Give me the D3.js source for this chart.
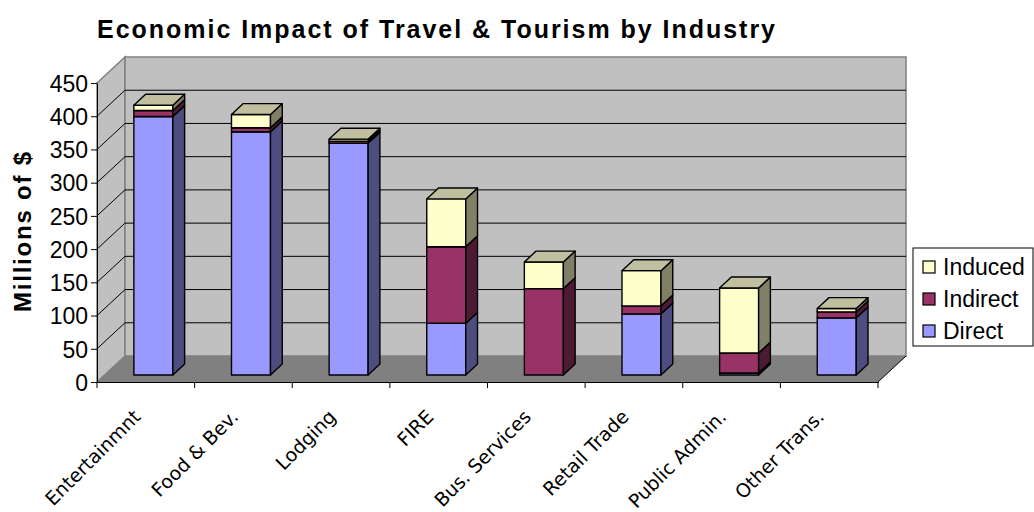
<!DOCTYPE html>
<html>
<head>
<meta charset="utf-8">
<script src="https://cdn.jsdelivr.net/npm/d3@7"></script>
<style>
  body { margin: 0; background: #fff; }
  svg { display: block; }
  .tick text { font-family: "Liberation Sans", Arial, sans-serif; }
</style>
</head>
<body>
<svg id="chart" width="1034" height="512"></svg>
<script>
// data (millions of $)
var categories = ["Entertainmnt", "Food & Bev.", "Lodging", "FIRE", "Bus. Services", "Retail Trade", "Public Admin.", "Other Trans."];
var direct   = [389, 366, 349, 78, 0, 92, 3, 86];
var indirect = [9, 6, 3, 115, 130, 12, 30, 9];
var induced  = [8, 20, 3, 72, 40, 53, 98, 5];
var seriesNames = ["Direct", "Indirect", "Induced"];
var yTicks = [0, 50, 100, 150, 200, 250, 300, 350, 400, 450];

// colours: front, side, top
var colors = {
  "Direct":   ["#9999ff", "#4d4d80", "#7373bf"],
  "Indirect": ["#993366", "#4d1a33", "#732650"],
  "Induced":  ["#ffffcc", "#808066", "#c0c0a0"]
};

var svg = d3.select("#chart");

var DX = 28, DY = 26;          // depth of the floor
var z0 = 0.27, z1 = 0.69;      // bar depth inside the floor
var barW = 39;

var x = d3.scaleBand().domain(categories).range([97, 878]);
var y = d3.scaleLinear().domain([0, 450]).range([382, 83]);

// project a front-plane point back by depth z (0..1)
function P(px, py, z) { return [px + z * DX, py - z * DY]; }
function poly(pts) { return pts.map(function(p) { return p.join(","); }).join(" "); }

// walls and floor
var x0 = x.range()[0], x1 = x.range()[1];
svg.append("polygon")
  .attr("points", poly([P(x0, y(0), 0), P(x0, y(450), 0), P(x0, y(450), 1), P(x0, y(0), 1)]))
  .attr("fill", "#c0c0c0").attr("stroke", "#808080").attr("stroke-width", 1.5);
svg.append("polygon")
  .attr("points", poly([P(x0, y(450), 1), P(x1, y(450), 1), P(x1, y(0), 1), P(x0, y(0), 1)]))
  .attr("fill", "#c0c0c0").attr("stroke", "#808080").attr("stroke-width", 1.5);
svg.append("polygon")
  .attr("points", poly([P(x0, y(0), 0), P(x1, y(0), 0), P(x1, y(0), 1), P(x0, y(0), 1)]))
  .attr("fill", "#808080");
svg.append("line")
  .attr("x1", x1).attr("y1", y(0)).attr("x2", x1 + DX).attr("y2", y(0) - DY)
  .attr("stroke", "#000").attr("stroke-width", 1);

// gridlines on back and side walls
var grid = yTicks.filter(function(v) { return v > 0 && v < 450; });
svg.append("g").selectAll("polyline")
  .data(grid)
  .enter().append("polyline")
  .attr("points", function(v) { return poly([P(x0, y(v), 0), P(x0, y(v), 1), P(x1, y(v), 1)]); })
  .attr("fill", "none").attr("stroke", "#000").attr("stroke-width", 1);

// stacked 3D bars
var series = [direct, indirect, induced];
var stacks = categories.map(function(c, i) {
  var base = 0;
  return series.map(function(s, k) {
    var seg = { cat: c, name: seriesNames[k], lo: base, hi: base + s[i] };
    base += s[i];
    return seg;
  }).filter(function(seg) { return seg.hi > seg.lo; });
});

var bars = svg.append("g").selectAll("g")
  .data(stacks)
  .enter().append("g");

bars.each(function(segs) {
  var g = d3.select(this);
  segs.forEach(function(d) {
    var cx = x(d.cat) + x.bandwidth() / 2;
    var l = cx - barW / 2, r = cx + barW / 2;
    var yl = y(d.lo), yh = y(d.hi);
    var front = [P(l, yl, z0), P(r, yl, z0), P(r, yh, z0), P(l, yh, z0)];
    var side = [P(r, yl, z0), P(r, yl, z1), P(r, yh, z1), P(r, yh, z0)];
    var top = [P(l, yh, z0), P(r, yh, z0), P(r, yh, z1), P(l, yh, z1)];
    var c = colors[d.name];
    [[front, c[0]], [side, c[1]], [top, c[2]]].forEach(function(f) {
      g.append("polygon")
        .attr("points", poly(f[0]))
        .attr("fill", f[1])
        .attr("stroke", "#000").attr("stroke-width", 1.4)
        .attr("stroke-linejoin", "round");
    });
  });
});

// y axis
var yAxis = d3.axisLeft(y).tickValues(yTicks).tickSize(6).tickSizeOuter(0).tickPadding(3);
var ya = svg.append("g").attr("transform", "translate(" + x0 + ",0)").call(yAxis);
ya.selectAll("text").attr("font-size", 23).attr("fill", "#000").attr("dy", "0.36em");
ya.selectAll("line, path").attr("stroke", "#000");

// x axis (ticks at category boundaries)
var xAxis = d3.axisBottom(x).tickSize(0).tickFormat("");
var xa = svg.append("g").attr("transform", "translate(0," + y(0) + ")").call(xAxis);
xa.select("path").attr("stroke", "#000");
var bounds = categories.map(function(c) { return x(c); }).concat([x1]);
xa.selectAll(".bnd").data(bounds).enter().append("line")
  .attr("class", "bnd")
  .attr("x1", function(d) { return d; }).attr("x2", function(d) { return d; })
  .attr("y1", 0).attr("y2", 6).attr("stroke", "#000");

svg.append("g").selectAll("text")
  .data(categories)
  .enter().append("text")
  .attr("transform", function(d) { return "translate(" + (x(d) + x.bandwidth() / 2 - 4) + "," + 418 + ") rotate(-45)"; })
  .attr("text-anchor", "end")
  .attr("font-family", "DejaVu Sans, Verdana, sans-serif")
  .attr("font-size", 19)
  .attr("fill", "#000")
  .text(function(d) { return d; });

// title
svg.append("text")
  .attr("x", 97).attr("y", 38)
  .attr("font-family", "Liberation Sans, Arial, sans-serif")
  .attr("font-weight", "bold").attr("font-size", 25)
  .attr("textLength", 678).attr("lengthAdjust", "spacing")
  .text("Economic Impact of Travel & Tourism by Industry");

// y axis title
svg.append("text")
  .attr("transform", "translate(31,232) rotate(-90)")
  .attr("text-anchor", "middle")
  .attr("font-family", "Liberation Sans, Arial, sans-serif")
  .attr("font-weight", "bold").attr("font-size", 24)
  .attr("textLength", 160).attr("lengthAdjust", "spacing")
  .text("Millions of $");

// legend
var lg = svg.append("g").attr("transform", "translate(913,248)");
lg.append("rect").attr("width", 120).attr("height", 98)
  .attr("fill", "#fff").attr("stroke", "#000").attr("stroke-width", 1);
var items = seriesNames.slice().reverse();
var li = lg.selectAll(".item").data(items).enter().append("g")
  .attr("transform", function(d, i) { return "translate(10," + (19 + i * 32) + ")"; });
li.append("rect").attr("x", 0).attr("y", -6).attr("width", 12).attr("height", 12)
  .attr("fill", function(d) { return colors[d][0]; })
  .attr("stroke", "#000").attr("stroke-width", 1.2);
li.append("text").attr("x", 20).attr("dy", "0.36em")
  .attr("font-family", "Liberation Sans, Arial, sans-serif")
  .attr("font-size", 23)
  .text(function(d) { return d; });
</script>
</body>
</html>
